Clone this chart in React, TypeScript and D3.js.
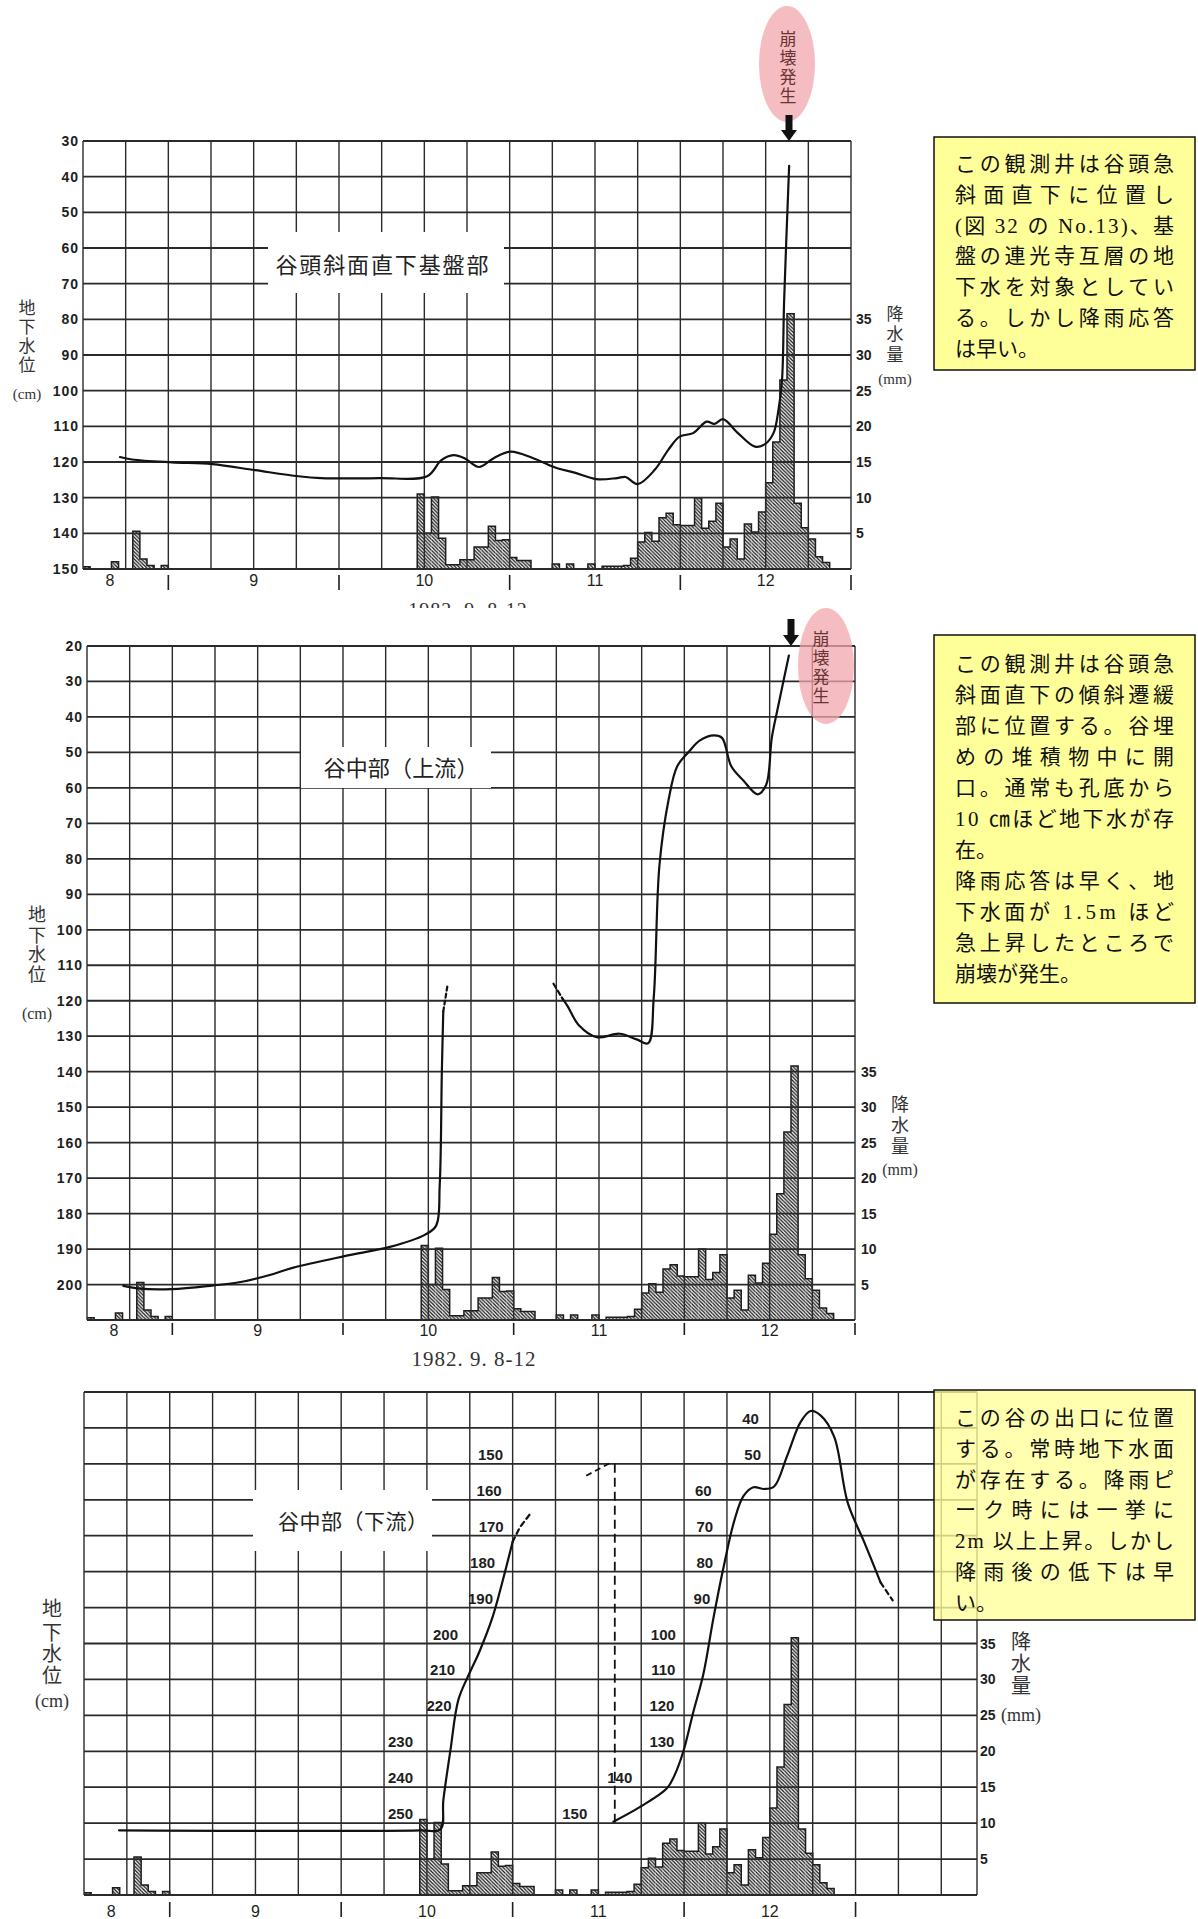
import React from "react";
import * as d3 from "d3";

type Pt = [number, number];
type Scale = d3.ScaleLinear<number, number>;

// hourly rainfall (mm), hour 0 = 1982-09-08 00h
const rainfall: number[] = [
  0.3, 0, 0, 0, 1.0, 0, 0, 5.3, 1.4, 0.5, 0, 0.5,
  0, 0, 0, 0, 0, 0, 0, 0, 0, 0, 0, 0,
  0, 0, 0, 0, 0, 0, 0, 0, 0, 0, 0, 0,
  0, 0, 0, 0, 0, 0, 0, 0, 0, 0, 0, 10.5,
  5.0, 10.1, 4.3, 0.6, 0.6, 1.3, 1.3, 3.1, 3.1, 6.0, 4.0, 4.1,
  1.6, 1.2, 1.2, 0, 0, 0, 0.7, 0, 0.7, 0, 0, 0.7,
  0, 0.4, 0.4, 0.4, 0.5, 1.5, 3.8, 5.1, 3.9, 7.2, 7.8, 6.2,
  6.1, 6.1, 10.0, 5.7, 6.7, 9.2, 3.1, 4.2, 1.4, 6.3, 5.2, 8.0,
  12.1, 17.8, 26.5, 35.8, 9.2, 5.8, 4.2, 1.7, 0.9, 0, 0, 0,
];

const dayLabels = ["8", "9", "10", "11", "12"];
const dayHours = [0, 24, 48, 72, 96];
const noonHours = [12, 36, 60, 84, 108];
const rainTicks = [5, 10, 15, 20, 25, 30, 35];
const topTicks = d3.range(30, 151, 10);
const midTicks = d3.range(20, 201, 10);

// groundwater level: [hour, depth cm]
const topLevel: Pt[] = [
  [5.2, 118.6], [6.9, 119.3], [12.5, 120.1], [18.2, 120.6], [24.2, 122.3],
  [30.3, 124.0], [33.5, 124.5], [41.6, 124.5], [48.4, 124.0], [50.4, 119.5],
  [52.1, 118.1], [53.7, 119], [55.7, 121.4], [57.7, 119], [60.1, 117.1],
  [63.4, 119], [66.6, 121.7], [69, 122.9], [72.2, 124.8], [75.1, 124.5],
  [76.3, 124.2], [78.0, 126.2], [80.4, 122.2], [82.3, 116.6], [83.9, 112.9],
  [85.8, 111.9], [87.7, 108.7], [88.8, 109.3], [90, 108], [92.1, 111.9],
  [94.5, 115.7], [95.9, 115], [97.1, 111.9], [97.8, 105.4], [98.3, 97],
  [98.6, 74.6], [99.3, 37],
];
const midLevelA: Pt[] = [
  [5.1, 200.4], [7.1, 201.1], [11.9, 201.3], [17.6, 200.3], [21.6, 199.3],
  [25.7, 197.3], [28.9, 195.3], [36.2, 192], [42.6, 189.4], [47.5, 186],
  [49.1, 183.4], [49.6, 172], [49.9, 140], [50.1, 123],
];
const midLevelAEnd: Pt[] = [[50.1, 123], [50.7, 115.6]];
const midLevelBStart: Pt[] = [[65.6, 115.2], [66.9, 119.5]];
const midLevelB: Pt[] = [
  [66.9, 119.5], [67.6, 121.6], [69.2, 127], [71.7, 130.3], [74.9, 129.3],
  [77.3, 130.9], [78.9, 132], [79.7, 119], [80.5, 81.8], [81.8, 63.2],
  [83, 53.9], [84.6, 49.9], [86.2, 46.6], [88.2, 45.2], [89.3, 45.9],
  [90.6, 53.9], [92.3, 57.9], [94.3, 61.8], [95.5, 59.2], [96.3, 45.9],
  [97.1, 37.9], [98.7, 22.7],
];
// lower well: first curve read on the 130-270 scale, second on 30-170
const lowLevelA: Pt[] = [
  [4.9, 252], [47, 252], [49.9, 251.7], [50.3, 243.6], [51.3, 229.6],
  [52.4, 215.7], [53.9, 208.5], [55.3, 202.5], [57.2, 192.6], [58.6, 182.6],
  [60, 171.7],
];
const lowLevelAEnd: Pt[] = [[60, 171.7], [61, 167.7], [62.5, 163.8]];
const lowLevelB: Pt[] = [
  [74.1, 149.6], [77.9, 145.4], [81.6, 140.3], [82.7, 136.5], [83.9, 130],
  [85.3, 119], [86.7, 108.5], [88.1, 93], [89.5, 79], [91, 66], [92.3, 59],
  [93.7, 56.5], [95.2, 57], [96.6, 56.3], [98.4, 47.9], [100.3, 38.4],
  [101.7, 35.3], [103.1, 36.5], [105, 42.4], [106.9, 60.8], [109.2, 71.7],
  [111.5, 83],
];
const lowLevelBEnd: Pt[] = [[111.5, 83], [113.2, 88]];
const lowLink: Pt[] = [[74.3, 50], [74.3, 150]];
const lowLinkTop: Pt[] = [[70.3, 53.3], [73.8, 49.6]];
const lowTicksA = [150, 160, 170, 180, 190, 200, 210, 220, 230, 240, 250];
const lowTicksAHour = [56.9, 56.7, 57, 55.8, 55.5, 50.6, 50.2, 49.7, 44.3, 44.3, 44.3];
const lowTicksB = [40, 50, 60, 70, 80, 90, 100, 110, 120, 130, 140, 150];
const lowTicksBHour = [93.3, 93.6, 86.7, 86.9, 86.9, 86.5, 81.1, 81.1, 80.9, 80.9, 75, 68.7];

const note1 = [
  "この観測井は谷頭急", "斜面直下に位置し", "(図 32 の No.13)、基", "盤の連光寺互層の地",
  "下水を対象としてい", "る。しかし降雨応答", "は早い。",
];
const note2 = [
  "この観測井は谷頭急", "斜面直下の傾斜遷緩", "部に位置する。谷埋", "めの堆積物中に開",
  "口。通常も孔底から", "10 ㎝ほど地下水が存", "在。", "降雨応答は早く、地",
  "下水面が 1.5m ほど", "急上昇したところで", "崩壊が発生。",
];
const note2Short = [6, 10];
const note3 = [
  "この谷の出口に位置", "する。常時地下水面", "が存在する。降雨ピ", "ーク時には一挙に",
  "2m 以上上昇。しかし", "降雨後の低下は早", "い。",
];

const SANS = "'Liberation Sans', Arial, sans-serif";
const JP = "'Noto Sans CJK JP', sans-serif";
const MIX = "'Liberation Serif', 'Noto Sans CJK JP', serif";
const INK = "#1e1e1e";

const lin = (d0: number, d1: number, r0: number, r1: number) =>
  d3.scaleLinear().domain([d0, d1]).range([r0, r1]);

const curvePath = (x: Scale, y: Scale, pts: Pt[], smooth = true) =>
  d3
    .line<Pt>()
    .x((d) => x(d[0]))
    .y((d) => y(d[1]))
    .curve(smooth ? d3.curveCatmullRom.alpha(0.5) : d3.curveLinear)(pts) || "";

function Grid({ x, hours, ys }: { x: Scale; hours: number; ys: number[] }) {
  const yTop = d3.min(ys)!;
  const yBot = d3.max(ys)!;
  const vx = d3.range(0, hours, 6).concat([hours]);
  return (
    <g stroke="#2a2a2a">
      {vx.map((h) => (
        <line key={"v" + h} x1={x(h)} x2={x(h)} y1={yTop} y2={yBot} strokeWidth={1.4} />
      ))}
      {ys.map((y, i) => (
        <line key={"h" + i} x1={x(0)} x2={x(hours)} y1={y} y2={y} strokeWidth={1.8} />
      ))}
    </g>
  );
}

function RainBars({ x, r }: { x: Scale; r: Scale }) {
  const base = r(0);
  const pts: Pt[] = rainfall.map((v, i) => [i, v] as Pt);
  pts.push([rainfall.length, 0]);
  const step = d3
    .line<Pt>()
    .x((d) => x(d[0]))
    .y((d) => r(d[1]))
    .curve(d3.curveStepAfter);
  return (
    <g>
      {rainfall.map((v, i) =>
        v > 0 ? (
          <rect key={i} x={x(i)} y={r(v)} width={x(i + 1) - x(i)} height={base - r(v)} fill="url(#hatch)" />
        ) : null
      )}
      <path d={step(pts) || ""} fill="none" stroke={INK} strokeWidth={1.5} />
    </g>
  );
}

function DayAxis({ x, y, tick0, tick1, label }: { x: Scale; y: number; tick0: number; tick1: number; label: number }) {
  return (
    <g>
      {noonHours.map((h) => (
        <line key={h} x1={x(h)} x2={x(h)} y1={y + tick0} y2={y + tick1} stroke={INK} strokeWidth={1.6} />
      ))}
      {dayLabels.map((d, i) => (
        <text key={d} x={x(i === 0 ? dayHours[i] + 3.8 : dayHours[i])} y={y + label}
          textAnchor="middle" fontFamily={SANS} fontSize={16} fill={INK}>
          {d}
        </text>
      ))}
    </g>
  );
}

function VText({ x, ys, chars, size, unit, unitY }: { x: number; ys: number[]; chars: string; size: number; unit: string; unitY: number }) {
  return (
    <g fill="#333" fontFamily={MIX} fontSize={size} textAnchor="middle">
      {chars.split("").map((c, i) => (
        <text key={i} x={x} y={ys[i]} dominantBaseline="central">{c}</text>
      ))}
      <text x={x} y={unitY} dominantBaseline="central" fontSize={size - 2}>{unit}</text>
    </g>
  );
}

function Title({ box, text, cx, cy, size, len }: { box: [number, number, number, number]; text: string; cx: number; cy: number; size: number; len: number }) {
  return (
    <g>
      <rect x={box[0]} y={box[1]} width={box[2]} height={box[3]} fill="#fff" />
      <text x={cx} y={cy} textAnchor="middle" dominantBaseline="central" fontFamily={JP}
        fontSize={size} fill="#222" textLength={len} lengthAdjust="spacing">
        {text}
      </text>
    </g>
  );
}

function Note({ x, y, w, h, lines, first, gap, short, opacity }: { x: number; y: number; w: number; h: number; lines: string[]; first: number; gap: number; short: number[]; opacity: number }) {
  return (
    <g>
      <rect x={x} y={y} width={w} height={h} fill="#ffff99" fillOpacity={opacity} stroke="#111" strokeWidth={1.5} />
      {lines.map((t, i) => (
        <text key={i} x={x + 21} y={first + i * gap} fontFamily={MIX} fontSize={21} fill="#111"
          {...(short.includes(i) ? {} : { textLength: 219, lengthAdjust: "spacing" })}>
          {t}
        </text>
      ))}
    </g>
  );
}

function Collapse({ cx, cy, tx, ty }: { cx: number; cy: number; tx: number; ty: number }) {
  return (
    <g>
      <ellipse cx={cx} cy={cy} rx={28} ry={58} fill="#f2a7ae" fillOpacity={0.75} />
      <text x={tx} y={ty} textAnchor="middle" writingMode="vertical-rl" letterSpacing={2}
        fontFamily={JP} fontSize={17} fill="#6a3434">
        崩壊発生
      </text>
    </g>
  );
}

function Arrow({ x, y0, y1 }: { x: number; y0: number; y1: number }) {
  const yh = y1 - 11;
  return (
    <path d={`M${x - 3.5},${y0} L${x + 3.5},${y0} L${x + 3.5},${yh} L${x + 8},${yh} L${x},${y1} L${x - 8},${yh} L${x - 3.5},${yh} Z`} fill="#111" />
  );
}

export default function App() {
  // upper panel: 谷頭斜面直下基盤部
  const xT = lin(0, 108, 83, 851);
  const yT = lin(30, 150, 141, 569);
  const rT = lin(0, 60, 569, 141);
  // middle panel: 谷中部（上流）
  const xM = lin(0, 108, 87, 855);
  const yM = lin(20, 210, 646, 1320);
  const rM = lin(0, 95, 1320, 646);
  // lower panel: 谷中部（下流）
  const xB = lin(0, 125, 84, 977);
  const yBA = lin(130, 270, 1392, 1895);
  const yBB = lin(30, 170, 1392, 1895);
  const rB = lin(0, 70, 1895, 1392);

  const lineStyle = { fill: "none", stroke: "#111", strokeWidth: 2.2, strokeLinecap: "round" as const };

  return (
    <svg width={1198} height={1919} style={{ position: "absolute", left: 0, top: 0, background: "#fff" }}>
      <defs>
        <pattern id="hatch" width={3.6} height={3.6} patternUnits="userSpaceOnUse">
          <rect width={3.6} height={3.6} fill="#fff" />
          <path d="M-1,-1 L4.6,4.6 M-1,2.6 L1,4.6 M2.6,-1 L4.6,1" stroke="#1a1a1a" strokeWidth={1.3} />
        </pattern>
        <clipPath id="cutDate">
          <rect x={380} y={590} width={200} height={18} />
        </clipPath>
      </defs>

      {/* ---------- upper panel ---------- */}
      <RainBars x={xT} r={rT} />
      <Grid x={xT} hours={108} ys={topTicks.map((v) => yT(v))} />
      <path d={curvePath(xT, yT, topLevel)} {...lineStyle} />
      <g fontFamily={SANS} fontSize={14} fontWeight="bold" fill={INK}>
        {topTicks.map((v) => (
          <text key={v} x={79} y={yT(v)} textAnchor="end" dominantBaseline="central" letterSpacing={1}>{v}</text>
        ))}
        {rainTicks.map((v) => (
          <text key={v} x={856} y={rT(v)} dominantBaseline="central">{v}</text>
        ))}
      </g>
      <DayAxis x={xT} y={569} tick0={6} tick1={21} label={17} />
      <Title box={[268, 232, 236, 61]} text="谷頭斜面直下基盤部" cx={382} cy={263} size={22} len={213} />
      <VText x={27} ys={[308, 327, 346, 365]} chars="地下水位" size={17} unit="(cm)" unitY={394} />
      <VText x={895} ys={[314, 334, 355]} chars="降水量" size={17} unit="(mm)" unitY={379} />
      <text x={468} y={617} textAnchor="middle" fontFamily={MIX} fontSize={20} fill="#333"
        letterSpacing={1} clipPath="url(#cutDate)">1982. 9. 8-12</text>
      <Collapse cx={787} cy={64} tx={788} ty={68} />
      <Arrow x={789} y0={115} y1={141} />

      {/* ---------- middle panel ---------- */}
      <RainBars x={xM} r={rM} />
      <Grid x={xM} hours={108} ys={d3.range(20, 211, 10).map((v) => yM(v))} />
      <path d={curvePath(xM, yM, midLevelA)} {...lineStyle} />
      <path d={curvePath(xM, yM, midLevelAEnd, false)} {...lineStyle} strokeDasharray="4 3" />
      <path d={curvePath(xM, yM, midLevelBStart, false)} {...lineStyle} strokeDasharray="5 3" />
      <path d={curvePath(xM, yM, midLevelB)} {...lineStyle} />
      <g fontFamily={SANS} fontSize={14} fontWeight="bold" fill={INK}>
        {midTicks.map((v) => (
          <text key={v} x={83} y={yM(v)} textAnchor="end" dominantBaseline="central" letterSpacing={1}>{v}</text>
        ))}
        {rainTicks.map((v) => (
          <text key={v} x={861} y={rM(v)} dominantBaseline="central">{v}</text>
        ))}
      </g>
      <DayAxis x={xM} y={1320} tick0={3} tick1={15} label={16} />
      <Title box={[301, 747, 190, 41]} text="谷中部（上流）" cx={401} cy={766} size={22} len={155} />
      <VText x={37} ys={[915, 936, 955, 975]} chars="地下水位" size={18} unit="(cm)" unitY={1013} />
      <VText x={900} ys={[1105, 1126, 1147]} chars="降水量" size={18} unit="(mm)" unitY={1169} />
      <text x={474} y={1366} textAnchor="middle" fontFamily={MIX} fontSize={21} fill="#333"
        letterSpacing={1}>1982. 9. 8-12</text>
      <Collapse cx={826} cy={666} tx={821} ty={668} />
      <Arrow x={791} y0={619} y1={646} />

      {/* ---------- lower panel ---------- */}
      <RainBars x={xB} r={rB} />
      <Grid x={xB} hours={125} ys={d3.range(0, 15).map((i) => yBB(30 + i * 10))} />
      <path d={curvePath(xB, yBA, lowLevelA)} {...lineStyle} />
      <path d={curvePath(xB, yBA, lowLevelAEnd, false)} {...lineStyle} strokeDasharray="5 4" />
      <path d={curvePath(xB, yBB, lowLevelB)} {...lineStyle} />
      <path d={curvePath(xB, yBB, lowLevelBEnd, false)} {...lineStyle} strokeDasharray="5 4" />
      <path d={curvePath(xB, yBB, lowLink, false)} fill="none" stroke="#111" strokeWidth={1.8} strokeDasharray="9 5" />
      <path d={curvePath(xB, yBB, lowLinkTop, false)} fill="none" stroke="#111" strokeWidth={1.8} strokeDasharray="6 4" />
      <g fontFamily={SANS} fontSize={15} fontWeight="bold" fill={INK} textAnchor="middle">
        {lowTicksA.map((v, i) => (
          <text key={"a" + v} x={xB(lowTicksAHour[i])} y={yBA(v) - 4}>{v}</text>
        ))}
        {lowTicksB.map((v, i) => (
          <text key={"b" + v} x={xB(lowTicksBHour[i])} y={yBB(v) - 4}>{v}</text>
        ))}
      </g>
      <g fontFamily={SANS} fontSize={14} fontWeight="bold" fill={INK}>
        {rainTicks.map((v) => (
          <text key={v} x={980} y={rB(v)} dominantBaseline="central">{v}</text>
        ))}
      </g>
      <DayAxis x={xB} y={1895} tick0={7} tick1={22} label={22} />
      <Title box={[253, 1490, 179, 61]} text="谷中部（下流）" cx={353} cy={1520} size={21} len={150} />
      <VText x={52} ys={[1609, 1633, 1654, 1676]} chars="地下水位" size={20} unit="(cm)" unitY={1701} />
      <VText x={1021} ys={[1642, 1664, 1686]} chars="降水量" size={20} unit="(mm)" unitY={1715} />

      {/* ---------- notes ---------- */}
      <Note x={934} y={137} w={261} h={233} lines={note1} first={171} gap={30.8} short={[6]} opacity={1} />
      <Note x={934} y={635} w={261} h={368} lines={note2} first={671} gap={31} short={note2Short} opacity={1} />
      <Note x={934} y={1390} w={261} h={230} lines={note3} first={1425} gap={30.8} short={[6]} opacity={0.78} />
    </svg>
  );
}
